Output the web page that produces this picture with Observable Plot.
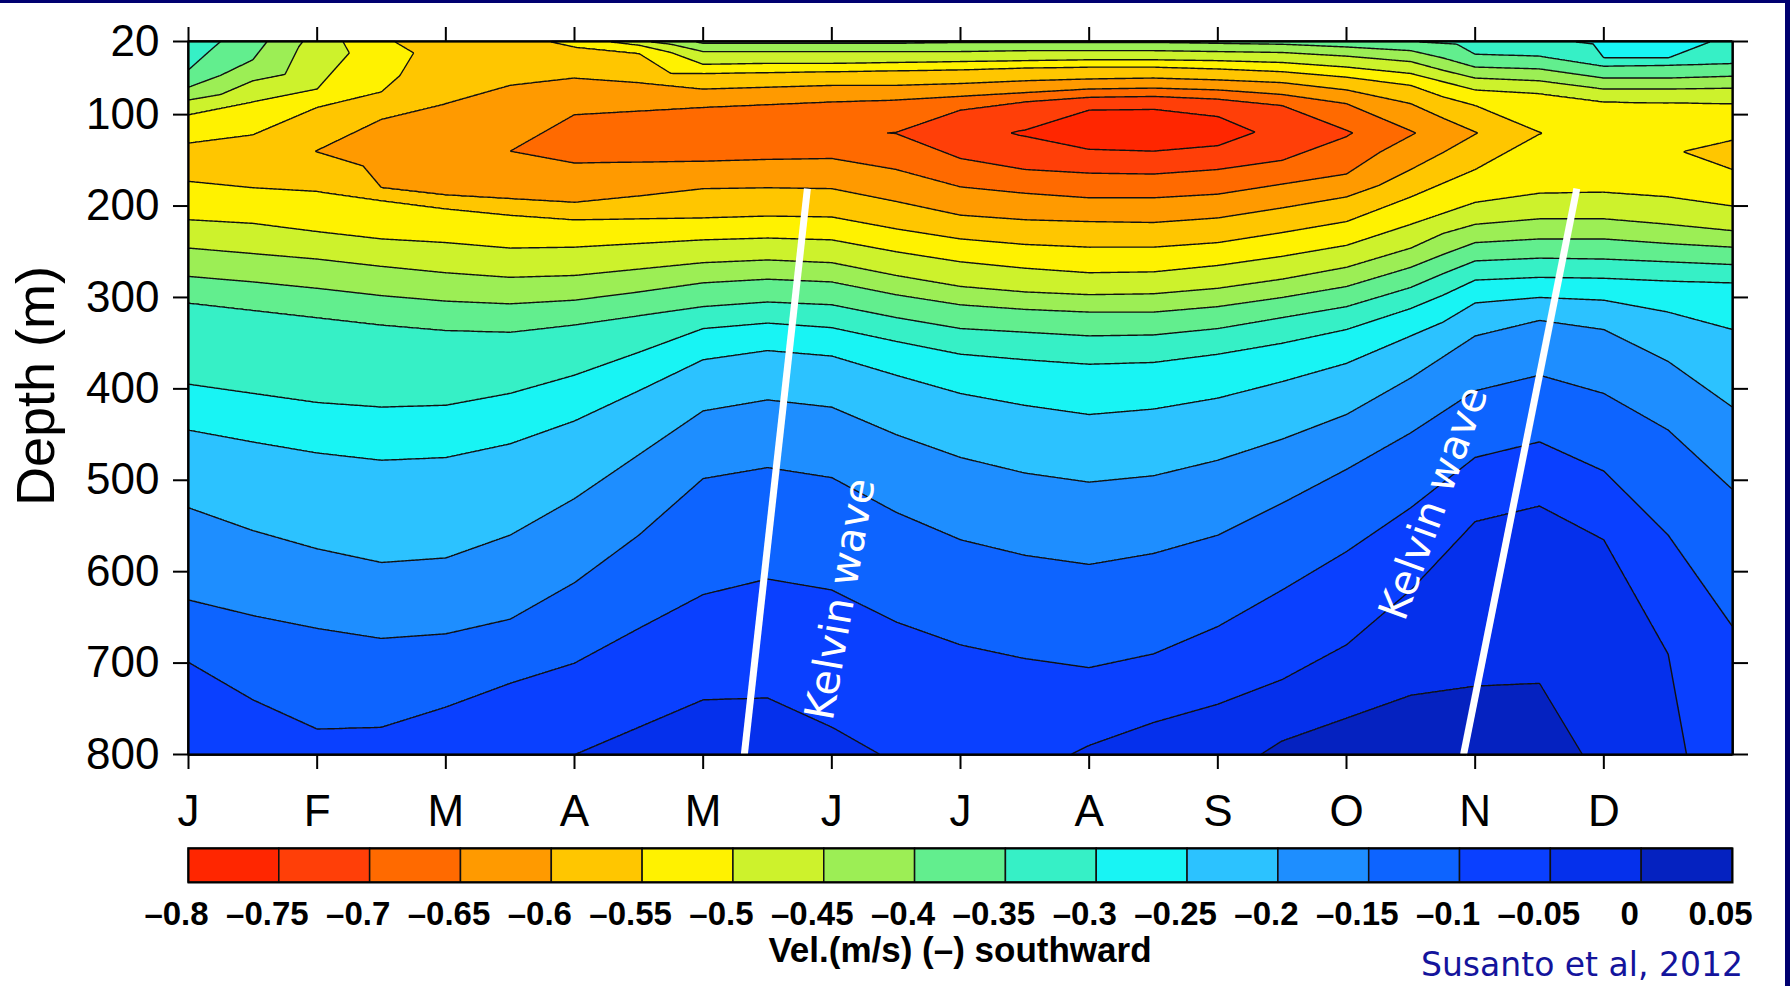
<!DOCTYPE html>
<html><head><meta charset="utf-8">
<script src="https://cdn.jsdelivr.net/npm/d3@7"></script>
<script src="https://cdn.jsdelivr.net/npm/@observablehq/plot@0.6"></script>
<style>
html,body{margin:0;padding:0;background:#fff;width:1790px;height:986px;overflow:hidden;font-family:"Liberation Sans",Arial,sans-serif}
#wrap{position:relative;width:1790px;height:986px}
#main{position:absolute;left:0;top:0}
#cbar{position:absolute;left:0;top:840px}
#navyTop{position:absolute;left:0;top:0;width:1790px;height:3px;background:#000070}
#navyRight{position:absolute;left:1785px;top:0;width:5px;height:986px;background:#000070}
#ylabel{position:absolute;left:-115px;top:356px;width:300px;height:60px;line-height:60px;text-align:center;font-size:54px;color:#000;transform:rotate(-90deg);white-space:nowrap}
#cbtitle{position:absolute;left:560px;width:800px;top:932px;text-align:center;font:bold 35px/35px "Liberation Sans",Arial,sans-serif;color:#000}
#credit{position:absolute;left:1421px;top:948px;font:33px/33px "DejaVu Sans",Verdana,sans-serif;color:#14149c;white-space:nowrap}
</style></head><body>
<div id="wrap">
  <div id="main"></div>
  <div id="cbar"></div>
  <div id="ylabel">Depth (m)</div>
  <div id="cbtitle">Vel.(m/s) (–) southward</div>
  <div id="credit">Susanto et al, 2012</div>
  <div id="navyTop"></div>
  <div id="navyRight"></div>
</div>
<script>
// ---------- axes ----------
const monthLabels = ["J","F","M","A","M","J","J","A","S","O","N","D"];
const monthTicks = [0,1,2,3,4,5,6,7,8,9,10,11];
const depthTicks = [20,100,200,300,400,500,600,700,800];

// ---------- colour levels ----------
const levels = [-0.8,-0.75,-0.7,-0.65,-0.6,-0.55,-0.5,-0.45,-0.4,-0.35,-0.3,-0.25,-0.2,-0.15,-0.1,-0.05,0,0.05];
const levelLabels = ["–0.8","–0.75","–0.7","–0.65","–0.6","–0.55","–0.5","–0.45","–0.4","–0.35","–0.3","–0.25","–0.2","–0.15","–0.1","–0.05","0","0.05"];
const bandColors = ["#ff2600","#ff3f08","#ff6a00","#ff9a00","#ffc600","#fff200","#cdf22c","#9cee55","#62ee8e","#36f0c6","#18f4f4","#2cc2ff","#1e8eff","#0d64ff","#0a40ff","#0530ec","#0522c0"];

// ---------- velocity read along month columns: [depth (m), velocity (m/s)] ----------
const columnMonths = [0,0.5,1,1.5,2,2.5,3,3.5,4,4.5,5,5.5,6,6.5,7,7.5,8,8.5,9,9.5,10,10.5,11,11.5,12];
const colJan0  = [[20,-0.32],[51,-0.35],[70,-0.4],[84,-0.45],[100,-0.5],[131,-0.55],[152,-0.575],[173,-0.55],[215,-0.5],[246,-0.45],[277,-0.4],[306,-0.35],[395,-0.3],[445,-0.25],[530,-0.2],[631,-0.15],[699,-0.1],[800,-0.08]];
const colJan5  = [[20,-0.38],[40,-0.4],[63,-0.45],[86,-0.5],[122,-0.55],[152,-0.58],[180,-0.55],[219,-0.5],[252,-0.45],[283,-0.4],[314,-0.35],[405,-0.3],[458,-0.25],[555,-0.2],[648,-0.15],[740,-0.1],[800,-0.09]];
const colFeb0  = [[20,-0.47],[72,-0.5],[92,-0.55],[140,-0.601],[184,-0.55],[228,-0.5],[258,-0.45],[290,-0.4],[322,-0.35],[415,-0.3],[470,-0.25],[575,-0.2],[662,-0.15],[772,-0.1],[800,-0.095]];
const colFeb5  = [[20,-0.545],[45,-0.53],[75,-0.55],[105,-0.6],[145,-0.62],[180,-0.6],[194,-0.55],[236,-0.5],[266,-0.45],[298,-0.4],[330,-0.35],[420,-0.3],[478,-0.25],[590,-0.2],[673,-0.15],[770,-0.1],[800,-0.095]];
const colMar0  = [[20,-0.57],[88,-0.6],[140,-0.636],[188,-0.6],[203,-0.55],[240,-0.5],[273,-0.45],[304,-0.4],[336,-0.35],[418,-0.3],[475,-0.25],[585,-0.2],[668,-0.15],[748,-0.1],[800,-0.085]];
const colMar5  = [[20,-0.565],[68,-0.6],[140,-0.65],[192,-0.6],[210,-0.55],[246,-0.5],[278,-0.45],[307,-0.4],[338,-0.35],[405,-0.3],[460,-0.25],[560,-0.2],[652,-0.15],[722,-0.1],[800,-0.07]];
const colApr0  = [[20,-0.54],[26,-0.55],[60,-0.6],[100,-0.65],[127,-0.67],[153,-0.65],[196,-0.6],[215,-0.55],[245,-0.5],[276,-0.45],[303,-0.4],[330,-0.35],[385,-0.3],[435,-0.25],[520,-0.2],[612,-0.15],[700,-0.1],[800,-0.05]];
const colApr5  = [[20,-0.46],[24,-0.5],[33,-0.55],[65,-0.6],[96,-0.65],[126,-0.68],[152,-0.65],[189,-0.6],[214,-0.55],[241,-0.5],[269,-0.45],[294,-0.4],[320,-0.35],[360,-0.3],[402,-0.25],[472,-0.2],[560,-0.15],[662,-0.1],[770,-0.05],[800,-0.045]];
const colMay0  = [[20,-0.39],[22,-0.4],[31,-0.45],[45,-0.5],[55,-0.55],[72,-0.6],[92,-0.65],[125,-0.685],[151,-0.65],[181,-0.6],[213,-0.55],[237,-0.5],[262,-0.45],[284,-0.4],[310,-0.35],[334,-0.3],[368,-0.25],[424,-0.2],[498,-0.15],[625,-0.1],[740,-0.05],[800,-0.038]];
const colMay5  = [[20,-0.39],[22,-0.4],[31,-0.45],[44,-0.5],[54,-0.55],[70,-0.6],[89,-0.65],[122,-0.69],[149,-0.65],[180,-0.6],[211,-0.55],[235,-0.5],[259,-0.45],[280,-0.4],[305,-0.35],[328,-0.3],[358,-0.25],[412,-0.2],[486,-0.15],[608,-0.1],[738,-0.05],[800,-0.038]];
const colJun0  = [[20,-0.39],[22,-0.4],[31,-0.45],[44,-0.5],[53,-0.55],[68,-0.6],[86,-0.65],[120,-0.695],[148,-0.65],[181,-0.6],[212,-0.55],[237,-0.5],[262,-0.45],[283,-0.4],[308,-0.35],[333,-0.3],[364,-0.25],[420,-0.2],[497,-0.15],[620,-0.1],[770,-0.05],[800,-0.047]];
const colJun5  = [[20,-0.39],[22,-0.4],[31,-0.45],[43,-0.5],[52,-0.55],[68,-0.6],[84,-0.65],[120,-0.701],[160,-0.65],[195,-0.6],[225,-0.55],[250,-0.5],[276,-0.45],[297,-0.4],[322,-0.35],[348,-0.3],[385,-0.25],[450,-0.2],[535,-0.15],[655,-0.1],[800,-0.051]];
const colJul0  = [[20,-0.39],[21,-0.4],[31,-0.45],[42,-0.5],[51,-0.55],[66,-0.6],[80,-0.65],[95,-0.7],[120,-0.732],[148,-0.7],[179,-0.65],[210,-0.6],[236,-0.55],[261,-0.5],[288,-0.45],[308,-0.4],[334,-0.35],[362,-0.3],[405,-0.25],[475,-0.2],[565,-0.15],[680,-0.1],[800,-0.062]];
const colJul5  = [[20,-0.39],[21,-0.4],[30,-0.45],[41,-0.5],[49,-0.55],[63,-0.6],[76,-0.65],[86,-0.7],[120,-0.755],[160,-0.7],[186,-0.65],[215,-0.6],[242,-0.55],[268,-0.5],[294,-0.45],[313,-0.4],[338,-0.35],[368,-0.3],[418,-0.25],[492,-0.2],[582,-0.15],[695,-0.1],[800,-0.055]];
const colAug0  = [[20,-0.39],[21,-0.4],[30,-0.45],[40,-0.5],[48,-0.55],[61,-0.6],[72,-0.65],[81,-0.7],[95,-0.75],[118,-0.78],[138,-0.75],[164,-0.7],[191,-0.65],[217,-0.6],[245,-0.55],[273,-0.5],[297,-0.45],[316,-0.4],[342,-0.35],[373,-0.3],[428,-0.25],[502,-0.2],[592,-0.15],[705,-0.1],[790,-0.05],[800,-0.048]];
const colAug5  = [[20,-0.39],[21,-0.4],[30,-0.45],[40,-0.5],[48,-0.55],[60,-0.6],[71,-0.65],[80,-0.7],[94,-0.75],[118,-0.78],[140,-0.75],[165,-0.7],[191,-0.65],[218,-0.6],[245,-0.55],[272,-0.5],[296,-0.45],[316,-0.4],[341,-0.35],[371,-0.3],[422,-0.25],[495,-0.2],[580,-0.15],[690,-0.1],[765,-0.05],[800,-0.03]];
const colSep0  = [[20,-0.39],[22,-0.4],[31,-0.45],[41,-0.5],[50,-0.55],[62,-0.6],[73,-0.65],[83,-0.7],[102,-0.75],[118,-0.768],[134,-0.75],[160,-0.7],[187,-0.65],[213,-0.6],[240,-0.55],[265,-0.5],[290,-0.45],[310,-0.4],[334,-0.35],[362,-0.3],[410,-0.25],[478,-0.2],[560,-0.15],[660,-0.1],[745,-0.05],[800,-0.01]];
const colSep5  = [[20,-0.38],[23,-0.4],[32,-0.45],[43,-0.5],[53,-0.55],[65,-0.6],[78,-0.65],[90,-0.7],[120,-0.737],[150,-0.7],[176,-0.65],[202,-0.6],[229,-0.55],[255,-0.5],[280,-0.45],[300,-0.4],[322,-0.35],[350,-0.3],[392,-0.25],[455,-0.2],[525,-0.15],[620,-0.1],[718,-0.05],[785,0],[800,0.005]];
const colOct0  = [[20,-0.37],[26,-0.4],[36,-0.45],[48,-0.5],[59,-0.55],[73,-0.6],[88,-0.65],[120,-0.705],[165,-0.65],[190,-0.6],[217,-0.55],[243,-0.5],[267,-0.45],[288,-0.4],[310,-0.35],[335,-0.3],[372,-0.25],[428,-0.2],[488,-0.15],[578,-0.1],[680,-0.05],[760,0],[800,0.01]];
const colOct5  = [[20,-0.35],[30,-0.4],[42,-0.45],[55,-0.5],[68,-0.55],[88,-0.6],[120,-0.654],[160,-0.6],[190,-0.55],[220,-0.5],[246,-0.45],[267,-0.4],[289,-0.35],[312,-0.3],[342,-0.25],[388,-0.2],[448,-0.15],[530,-0.1],[620,-0.05],[735,0],[800,0.015]];
const colNov0  = [[20,-0.33],[34,-0.35],[48,-0.4],[60,-0.45],[73,-0.5],[90,-0.55],[120,-0.602],[160,-0.55],[196,-0.5],[220,-0.45],[240,-0.4],[260,-0.35],[281,-0.3],[306,-0.25],[342,-0.2],[402,-0.15],[475,-0.1],[545,-0.05],[725,0],[800,0.015]];
const colNov5  = [[20,-0.31],[36,-0.35],[50,-0.4],[63,-0.45],[77,-0.5],[120,-0.551],[186,-0.5],[214,-0.45],[236,-0.4],[257,-0.35],[278,-0.3],[300,-0.25],[325,-0.2],[385,-0.15],[458,-0.1],[528,-0.05],[722,0],[800,0.012]];
const colDec0  = [[20,-0.29],[38,-0.3],[47,-0.35],[60,-0.4],[72,-0.45],[86,-0.5],[140,-0.53],[185,-0.5],[214,-0.45],[236,-0.4],[258,-0.35],[279,-0.3],[303,-0.25],[335,-0.2],[405,-0.15],[490,-0.1],[565,-0.05],[800,-0.006]];
const colDec5  = [[20,-0.28],[38,-0.3],[46,-0.35],[60,-0.4],[72,-0.45],[87,-0.5],[140,-0.545],[190,-0.5],[220,-0.45],[241,-0.4],[261,-0.35],[282,-0.3],[316,-0.25],[370,-0.2],[445,-0.15],[560,-0.1],[690,-0.05],[800,-0.04]];
const colEnd   = [[20,-0.31],[44,-0.35],[58,-0.4],[71,-0.45],[88,-0.5],[128,-0.55],[142,-0.567],[160,-0.55],[200,-0.5],[227,-0.45],[245,-0.4],[264,-0.35],[284,-0.3],[335,-0.25],[420,-0.2],[510,-0.15],[660,-0.1],[800,-0.075]];
const columns = [colJan0,colJan5,colFeb0,colFeb5,colMar0,colMar5,colApr0,colApr5,colMay0,colMay5,colJun0,colJun5,colJul0,colJul5,colAug0,colAug5,colSep0,colSep5,colOct0,colOct5,colNov0,colNov5,colDec0,colDec5,colEnd];

// ---------- annotations ----------
const kelvinLines = [{m1:4.32,d1:800,m2:4.81,d2:181},{m1:9.91,d1:800,m2:10.79,d2:181}];
const kelvinLabelA = [{m:5.07,d:630,t:"Kelvin wave"}];
const kelvinLabelB = [{m:9.68,d:525,t:"Kelvin wave"}];

// ---------- build ----------
const points = [];
columns.forEach((col, i) => col.forEach(([d, v]) => points.push({m: columnMonths[i], d, v})));

const main = Plot.plot({
  width: 1790, height: 840,
  marginLeft: 188, marginRight: 58, marginTop: 41, marginBottom: 86,
  style: {fontFamily: '"Liberation Sans", Arial, sans-serif', fontSize: "44px", color: "#000", background: "transparent", overflow: "visible"},
  x: {domain: [0, 12]},
  y: {domain: [20, 800], reverse: true},
  color: {type: "threshold", domain: levels.slice(1, 17), range: bandColors},
  marks: [
    Plot.contour(points, {x: "m", y: "d", fill: "v", interpolate: "barycentric", thresholds: levels.slice(0, 17), stroke: "#111", strokeWidth: 1.4, pixelSize: 1}),
    Plot.link(kelvinLines, {x1: "m1", y1: "d1", x2: "m2", y2: "d2", stroke: "#fff", strokeWidth: 7}),
    Plot.text(kelvinLabelA, {x: "m", y: "d", text: "t", rotate: -80, fill: "#fff", fontSize: 41, fontFamily: '"DejaVu Sans", Verdana, sans-serif'}),
    Plot.text(kelvinLabelB, {x: "m", y: "d", text: "t", rotate: -70, fill: "#fff", fontSize: 41, fontFamily: '"DejaVu Sans", Verdana, sans-serif'}),
    Plot.frame({stroke: "#000", strokeWidth: 2}),
    Plot.axisX({anchor: "bottom", ticks: monthTicks, tickFormat: (d) => monthLabels[d], tickSize: 15, tickPadding: 25, strokeWidth: 2, label: null}),
    Plot.axisX({anchor: "top", ticks: monthTicks, tickFormat: () => "", tickSize: 15, strokeWidth: 2, label: null}),
    Plot.axisY({anchor: "left", ticks: depthTicks, tickSize: 15, tickPadding: 14, strokeWidth: 2, label: null}),
    Plot.axisY({anchor: "right", ticks: depthTicks, tickFormat: () => "", tickSize: 15, strokeWidth: 2, label: null})
  ]
});
document.getElementById("main").appendChild(main);

const bands = bandColors.map((c, i) => ({lo: levels[i], hi: levels[i + 1], c}));
const cbar = Plot.plot({
  width: 1790, height: 146,
  marginLeft: 188, marginRight: 58, marginTop: 8, marginBottom: 104,
  style: {fontFamily: '"Liberation Sans", Arial, sans-serif', fontSize: "33px", fontWeight: "bold", color: "#000", background: "transparent", overflow: "visible"},
  x: {domain: [-0.8, 0.05]},
  y: {domain: [0, 1], axis: null},
  marks: [
    Plot.rect(bands, {x1: "lo", x2: "hi", y1: 0, y2: 1, fill: "c", stroke: "#111", strokeWidth: 1.5}),
    Plot.frame({stroke: "#000", strokeWidth: 2}),
    Plot.axisX({anchor: "bottom", ticks: levels, tickFormat: (d) => levelLabels[levels.indexOf(d)], tickSize: 0, tickPadding: 19, dx: -12, label: null})
  ]
});
document.getElementById("cbar").appendChild(cbar);
</script>
</body></html>
